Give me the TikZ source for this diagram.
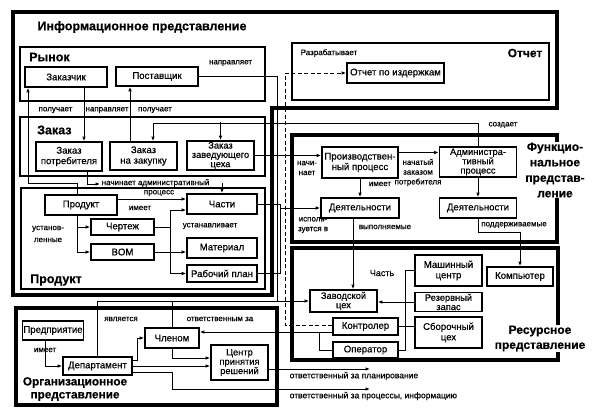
\documentclass[tikz,border=0pt]{standalone}
\usepackage{fontspec}
\setmainfont{Liberation Sans}[FakeBold=0.5]
\usetikzlibrary{arrows.meta}
\newcommand\fsz[2]{\fontsize{#1}{#2}\selectfont}
\begin{document}
\begin{tikzpicture}[x=1pt,y=-1pt,
  bx/.style={draw,line width=1.6pt,fill=white,inner sep=1pt,align=center,font=\fsz{9.6}{10.5}},
  sz/.style 2 args={minimum width=#1,minimum height=#2},
  tight/.style={font=\fsz{9.3}{9.3}},
  lbl/.style={inner sep=0.5pt,align=center,font=\fsz{8}{9.8}},
  ttl/.style={inner sep=1pt,anchor=west,font=\bfseries\fsz{12.5}{15}},
  ar/.style={-{Latex[length=4.5pt,width=3.5pt]},line width=1pt},
  ln/.style={line width=1pt},
  dsh/.style={dash pattern=on 4pt off 2.5pt},
  grp/.style={line width=1.4pt},
  thk/.style={line width=3.4pt}]
\useasboundingbox (0,0) rectangle (599,415);
\fill[white] (0,0) rectangle (599,415);
% frames
\draw[thk] (13,12) -- (557,12) -- (557,108) -- (272,108) -- (272,295) -- (13,295) -- cycle;
\draw[grp] (20,47) rectangle (265,101);
\draw[grp] (20,117) rectangle (265,176);
\draw[grp] (21,188) rectangle (265,289);
\draw[grp] (292,43) rectangle (549,100);
\draw[thk] (292,135) rectangle (557,242);
\draw[thk] (292,248) rectangle (558,360);
\draw[thk] (16,308) rectangle (277,405);
% boxes
\node[bx,sz={82}{20}] (zakazchik) at (66,77) {Заказчик};
\node[bx,sz={82}{19}] (postavshik) at (157,76.5) {Поставщик};
\node[bx,sz={66}{29}] (zpotr) at (69,156.5) {Заказ\\потребителя};
\node[bx,sz={67}{28}] (zzak) at (143.5,156) {Заказ\\на закупку};
\node[bx,tight,sz={67}{29}] (zzav) at (220.5,155.5) {Заказ\\заведующего\\цеха};
\node[bx,sz={72}{20}] (produkt) at (81,205) {Продукт};
\node[bx,sz={70}{20}] (chasti) at (222,204) {Части};
\node[bx,sz={63}{16}] (chertezh) at (122.5,227) {Чертеж};
\node[bx,sz={63}{16}] (bom) at (122.5,252) {BOM};
\node[bx,sz={70}{20}] (material) at (222,248) {Материал};
\node[bx,sz={70}{17}] (rplan) at (222,273.5) {Рабочий план};
\node[bx,sz={97}{20}] (otchetizd) at (395.5,73) {Отчет по издержкам};
\node[bx,sz={76}{31}] (proizv) at (360,162.5) {Производствен-\\ный процесс};
\node[bx,tight,sz={77}{30}] (adm) at (478,162) {Администра-\\тивный\\процесс};
\node[bx,sz={78}{20}] (deyat1) at (360,208) {Деятельности};
\node[bx,sz={77}{20}] (deyat2) at (478,208) {Деятельности};
\node[bx,sz={67}{31}] (mashc) at (448.5,270.5) {Машинный\\центр};
\node[bx,sz={66}{19}] (komp) at (520,276.5) {Компьютер};
\node[bx,tight,sz={67}{22}] (zavc) at (343.5,301) {Заводской\\цех};
\node[bx,tight,sz={67}{19}] (rezerv) at (448.5,302) {Резервный\\запас};
\node[bx,sz={65}{17}] (kontr) at (365.5,326.5) {Контролер};
\node[bx,sz={67}{31}] (sborc) at (448.5,332.5) {Сборочный\\цех};
\node[bx,sz={65}{16}] (oper) at (365.5,350) {Оператор};
\node[bx,sz={60}{19}] (predpr) at (53,330.5) {Предприятие};
\node[bx,sz={69}{18}] (depart) at (97.5,366) {Департамент};
\node[bx,sz={54}{20}] (chlen) at (172,338) {Членом};
\node[bx,tight,sz={57}{35}] (centr) at (239.5,362.5) {Центр\\принятия\\решений};
\coordinate (e1) at (370,369);
\coordinate (e2) at (370,389);
% connectors
\draw[ar] ([xshift=-4pt]produkt.north) |- (28,183) -- ([xshift=-38pt]zakazchik.south);
\draw[ar] ([xshift=18pt]zakazchik.south) -- ([xshift=15pt]zpotr.north);
\draw[ar] ([xshift=-13.5pt]zzak.north) -- ([xshift=-27pt]postavshik.south);
\draw[ln] (postavshik.east) -| (277,301);
\draw[ar] (adm.north) |- (153,123) -- ([xshift=9.5pt]zzak.north);
\draw[ar] (zzav.north) ++(0,-18) -- (zzav.north);
\draw[ar] ([xshift=18pt]zpotr.south) |- (100,184);
\draw[ar] (chasti.north) ++(0,-10) -- (chasti.north);
\draw[ar] (zzav.east) -- (zzav.east -| proizv.west);
\draw[ar] ([yshift=6pt]produkt.east) -- ([yshift=6pt]produkt.east -| chasti.west);
\draw[ar] ([xshift=-4pt]produkt.south) |- (chertezh.west);
\draw[ar] ([xshift=-4pt]produkt.south) |- (bom.west);
\draw[ar] (chertezh.east) -- (170,227) |- ([yshift=-6pt]chasti.west);
\draw[ar] (chertezh.east) -| (170,273.5) -- (rplan.west);
\draw[ar] (bom.east) -- (bom.east -| material.west);
\draw[ar] (chasti.east) -| (280,208) -- (deyat1.west);
\draw[ln] (rplan.east) -| (280,208);
\draw[ar] ([yshift=10pt]proizv.east) -- ([yshift=10pt]proizv.east -| adm.west);
\draw[ar] (proizv.south) -- (deyat1.north);
\draw[ar] (adm.south) -- (deyat2.north);
\draw[ar] ([xshift=-7pt]deyat1.south) -- ([xshift=9.5pt]zavc.north);
\draw[ar] (deyat2.south) -- ++(0,14) -| (komp.north);
\draw[ar] (rezerv.west) -- (rezerv.west -| zavc.east);
\draw[ln] (mashc.west) -| (405,350) -- (oper.east);
\draw[ln] (kontr.east) -- (kontr.east -| sborc.west);
\draw[ar] ([yshift=-5.5pt]kontr.west) -- ([yshift=-5.5pt]kontr.west -| chlen.east);
\draw[ln] ([yshift=-5.5pt]kontr.west) -- ++(-13,0) |- (oper.west);
\draw[ar,dsh] ([yshift=1.5pt]kontr.west) -| (285,73) -- (otchetizd.west);
\draw[ar] (depart.north) |- (zavc.west);
\draw[ln] (chlen.north) -- (chlen.north |- zavc.west);
\draw[ar] ([xshift=-8pt]predpr.south) |- (depart.west);
\draw[ar] ([yshift=6pt]depart.east) -- ++(5,0) |- (chlen.west);
\draw[ar] (chlen.south) |- ([yshift=4.5pt]centr.west);
\draw[ar] (depart.east) -- (depart.east -| centr.west);
\draw[ar] ([yshift=-6.5pt]centr.east) -- (e1);
\draw[ar] ([yshift=-6pt]depart.east) -| (172,389) -- (e2);
% labels
\node[lbl] at (230.5,63) {направляет};
\node[lbl] at (55.5,110) {получает};
\node[lbl] at (107,110) {направляет};
\node[lbl] at (155,110) {получает};
\node[lbl] at (503,125) {создает};
\node[lbl,anchor=west] at (101,183) {начинает административный};
\node[lbl] at (159,193) {процесс};
\node[lbl] at (140,208) {имеет};
\node[lbl,font=\fsz{8}{12}] at (48,234) {установ-\\ленные};
\node[lbl] at (210,226) {устанавливает};
\node[lbl] at (307,168) {начи-\\нает};
\node[lbl] at (418,172.5) {начатый\\заказом\\потребителя};
\node[lbl] at (380,184) {имеет};
\node[lbl] at (313,225) {исполь-\\зуется в};
\node[lbl] at (385,227) {выполняемые};
\node[lbl] at (514,225) {поддерживаемые};
\node[lbl,font=\fsz{9}{10}] at (382,273) {Часть};
\node[lbl] at (121,319) {является};
\node[lbl] at (220,319) {ответственным за};
\node[lbl] at (45,350) {имеет};
\node[lbl,anchor=west,font=\fsz{8.5}{10}] at (289,376) {ответственный за планирование};
\node[lbl,anchor=west,font=\fsz{8.5}{10}] at (289,396) {ответственный за процессы, информацию};
\node[lbl,anchor=west] at (300,53) {Разрабатывает};
% titles
\node[ttl,anchor=center] at (142,27) {Информационное представление};
\node[ttl] at (28,57) {Рынок};
\node[ttl] at (36,130) {Заказ};
\node[ttl] at (29,280) {Продукт};
\node[ttl,anchor=center,font=\bfseries\fsz{12}{14}] at (525,53) {Отчет};
\node[ttl,anchor=center,fill=white,align=center,font=\bfseries\fsz{12}{15.5}] at (555,170) {Функцио-\\нальное\\представ-\\ление};
\node[ttl,anchor=center,fill=white,align=center,font=\bfseries\fsz{12}{15}] at (540,338.5) {Ресурсное\\представление};
\node[ttl,anchor=center,align=center,font=\bfseries\fsz{11.8}{13}] at (75,389) {Организационное\\представление};
\end{tikzpicture}
\end{document}
